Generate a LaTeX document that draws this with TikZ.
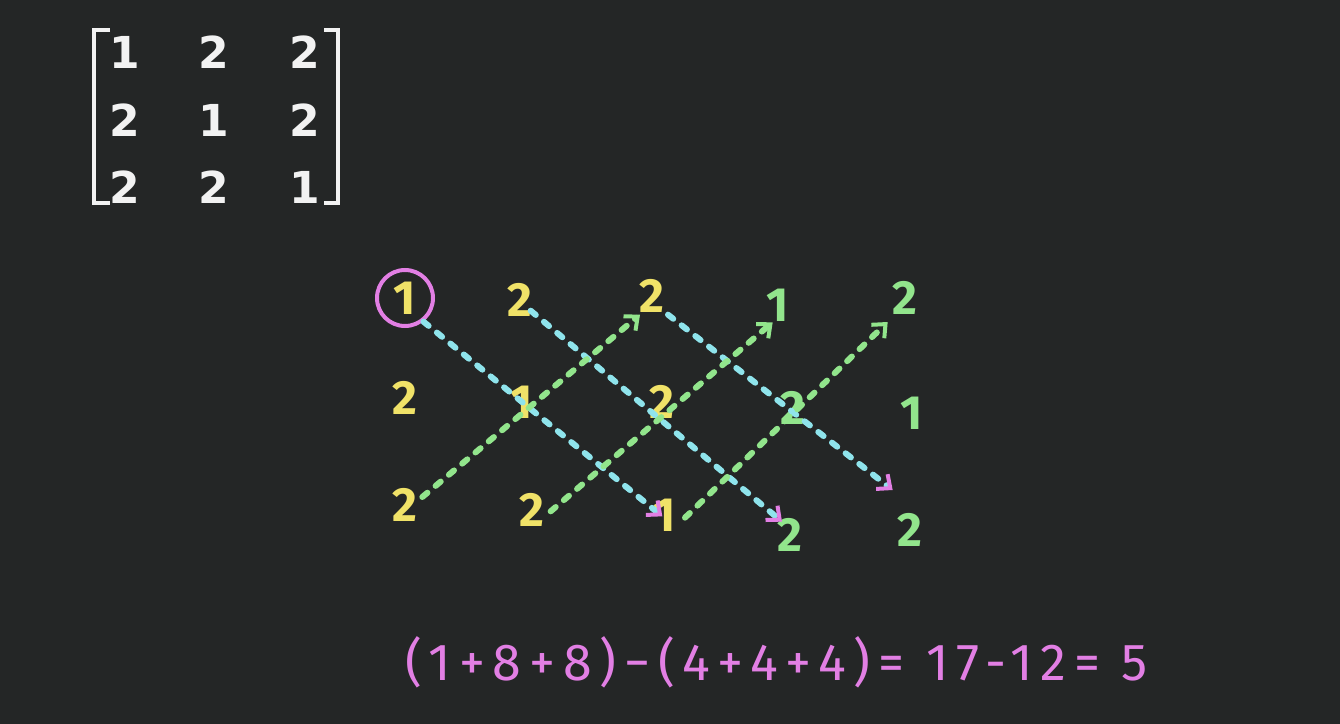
\documentclass[tikz,border=0pt]{standalone}
\usepackage{fontspec}
\setmainfont{Fira Sans}
\newfontfamily\matfont{DejaVu Sans}
\usetikzlibrary{arrows.meta}
\definecolor{bgc}{HTML}{242626}
\definecolor{chalkY}{HTML}{F0E268}
\definecolor{chalkG}{HTML}{92E58C}
\definecolor{chalkC}{HTML}{8FE4EC}
\definecolor{chalkM}{HTML}{E27FE4}
\definecolor{chalkW}{HTML}{F2F2F2}
\tikzset{
  mat/.style={text=chalkW,font=\matfont\bfseries\fontsize{33}{38}\selectfont,inner sep=0pt},
  ydig/.style={text=chalkY,font=\bfseries\fontsize{36}{40}\selectfont,inner sep=2pt},
  gdig/.style={text=chalkG,font=\bfseries\fontsize{36}{40}\selectfont,inner sep=2pt},
  cdash/.style={draw=chalkC,line width=4.5pt,line cap=round,dash pattern=on 5pt off 8pt,
     -{Straight Barb[color=chalkM,length=8pt,width=14pt,line width=3pt]}},
  gdash/.style={draw=chalkG,line width=4.5pt,line cap=round,dash pattern=on 5pt off 8pt,
     -{Straight Barb[color=chalkG,length=8pt,width=14pt,line width=3pt]}},
  bracket/.style={draw=chalkW,line width=3.2pt},
}
\begin{document}
\begin{tikzpicture}[x=0.75pt,y=-0.75pt]
\fill[bgc] (0,0) rectangle (1340,724);
\useasboundingbox (0,0) rectangle (1340,724);
% matrix
\node[mat] (m11) at (125,52) {1};
\node[mat] (m12) at (214,52) {2};
\node[mat] (m13) at (305,52) {2};
\node[mat] (m21) at (125,120) {2};
\node[mat] (m22) at (214,120) {1};
\node[mat] (m23) at (305,120) {2};
\node[mat] (m31) at (125,187) {2};
\node[mat] (m32) at (214,187) {2};
\node[mat] (m33) at (305,187) {1};
\draw[bracket] (110,30) -- (94,30) -- (94,203) -- (110,203);
\draw[bracket] (324,30) -- (338,30) -- (338,203) -- (324,203);
% grid
\node[ydig] (r1c1) at (405,298) {1};
\node[ydig] (r1c2) at (520,300) {2};
\node[ydig] (r1c3) at (652,296) {2};
\node[gdig] (r1c4) at (778,305) {1};
\node[gdig] (r1c5) at (905,298) {2};
\node[ydig] (r2c1) at (405,398) {2};
\node[ydig] (r2c2) at (522,402) {1};
\node[ydig] (r2c3) at (662,402) {2};
\node[gdig] (r2c4) at (793,408) {2};
\node[gdig] (r2c5) at (912,413) {1};
\node[ydig] (r3c1) at (405,505) {2};
\node[ydig] (r3c2) at (532,510) {2};
\node[ydig] (r3c3) at (665,515) {1};
\node[gdig] (r3c4) at (790,535) {2};
\node[gdig] (r3c5) at (910,530) {2};
\node[draw=chalkM,line width=3pt,circle,minimum size=42pt,inner sep=0pt] (circ) at (405,298) {};
% diagonals
\draw[cdash] (circ.-52) -- ([xshift=-2pt,yshift=-1pt]r3c3.center);
\draw[cdash] ([xshift=8pt,yshift=-8pt]r1c2.center) -- ([xshift=-6pt,yshift=10pt]r3c4.center);
\draw[cdash] ([xshift=12pt,yshift=-14pt]r1c3.center) -- ([xshift=-13pt,yshift=30pt]r3c5.center);
\draw[gdash] ([xshift=13pt,yshift=6pt]r3c1.center) -- ([xshift=-9pt,yshift=-14pt]r1c3.center);
\draw[gdash] ([xshift=14pt,yshift=-1pt]r3c2.center) -- ([xshift=-4pt,yshift=-13pt]r1c4.center);
\draw[gdash] ([xshift=15pt,yshift=-2pt]r3c3.center) -- ([xshift=-13pt,yshift=-18pt]r1c5.center);
% equation
\node[text=chalkM,font=\addfontfeature{LetterSpace=15}\fontsize{39}{44}\selectfont,anchor=west,inner sep=0pt] (eq) at (405,662)
  {(1+8+8)−(4+4+4)= 17-12= 5};
\end{tikzpicture}
\end{document}
